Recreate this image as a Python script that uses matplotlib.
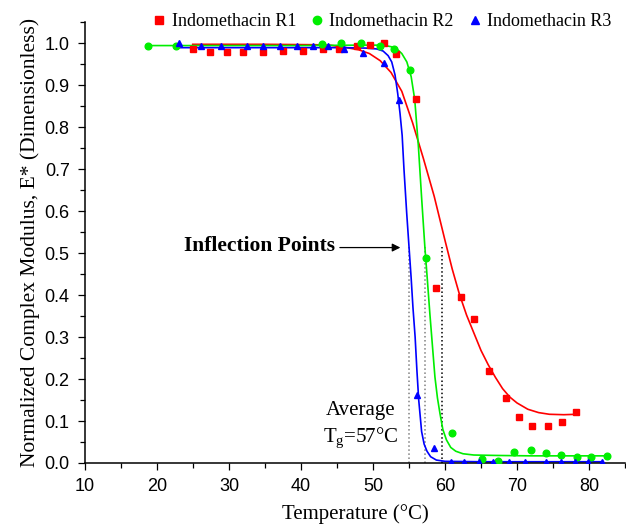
import matplotlib
matplotlib.use("Agg")
import matplotlib.pyplot as plt
from matplotlib.ticker import MultipleLocator

plt.rcParams['mathtext.fontset'] = 'custom'
plt.rcParams['mathtext.rm'] = 'Liberation Serif'

SERIF = 'Liberation Serif'
SANS = 'Liberation Sans'

# measured points (temperature in C, normalized E*)
r1_t = [24.96, 27.36, 29.68, 31.99, 34.76, 37.54, 40.24, 43.01, 45.32, 47.82, 49.58, 51.57,
        53.19, 55.93, 58.7, 62.18, 64.07, 66.07, 68.47, 70.32, 72.13, 74.26, 76.29, 78.19]
r1_e = [0.986, 0.979, 0.979, 0.979, 0.979, 0.981, 0.982, 0.985, 0.987, 0.993, 0.995, 0.999,
        0.974, 0.866, 0.417, 0.395, 0.343, 0.219, 0.154, 0.110, 0.089, 0.088, 0.098, 0.122]

r2_t = [18.8, 22.7, 42.87, 45.5, 48.4, 50.97, 52.92, 55.1, 57.36, 61.01, 65.18, 67.32,
        69.63, 71.94, 74.03, 76.11, 78.29, 80.24, 82.46]
r2_e = [0.993, 0.994, 0.998, 0.999, 0.999, 0.994, 0.987, 0.936, 0.489, 0.072, 0.0095, 0.004,
        0.0255, 0.030, 0.023, 0.018, 0.014, 0.014, 0.016]

r3_t = [23.06, 26.1, 28.9, 32.46, 34.76, 37.08, 39.4, 41.7, 43.8, 46.0, 48.65, 51.53, 53.65,
        56.15, 58.52, 60.83, 62.68, 64.76, 66.71, 68.93, 71.11, 74.03, 76.07, 78.06, 79.9, 81.76]
r3_e = [0.999, 0.994, 0.994, 0.994, 0.994, 0.994, 0.994, 0.994, 0.994, 0.985, 0.976, 0.952, 0.864,
        0.162, 0.035, 0.003, 0.003, 0.003, 0.003, 0.003, 0.003, 0.003, 0.003, 0.003, 0.003, 0.003]

# fitted curves
r1_fit_t = [24.96, 35.0, 42.0, 44.0, 46.0, 48.0, 49.5, 51.0, 52.5, 54.0, 55.5, 57.0, 58.5,
            60.0, 61.0, 62.0, 63.0, 64.0, 65.0, 66.0, 67.0, 68.0, 69.0, 70.0, 71.5, 73.0,
            74.5, 76.5, 78.3]
r1_fit_e = [0.997, 0.997, 0.996, 0.995, 0.990, 0.984, 0.975, 0.958, 0.930, 0.885, 0.810, 0.725,
            0.635, 0.530, 0.462, 0.402, 0.352, 0.310, 0.268, 0.234, 0.204, 0.177, 0.157, 0.143,
            0.128, 0.120, 0.116, 0.115, 0.116]

r2_fit_t = [18.8, 30.0, 40.0, 48.0, 50.5, 52.0, 52.9, 53.5, 54.0, 54.7, 55.3, 55.8, 56.3, 56.75,
            57.2, 57.55, 57.9, 58.25, 58.6, 58.95, 59.3, 59.7, 60.2, 60.8, 61.5, 62.5, 64.0, 67.0,
            72.0, 77.0, 82.5]
r2_fit_e = [0.994, 0.994, 0.994, 0.995, 0.995, 0.993, 0.990, 0.983, 0.975, 0.955, 0.92, 0.865,
            0.755, 0.632, 0.515, 0.436, 0.355, 0.28, 0.205, 0.155, 0.118, 0.08, 0.055, 0.037,
            0.028, 0.022, 0.019, 0.018, 0.017, 0.017, 0.017]

r3_fit_t = [23.06, 30.0, 40.0, 46.0, 49.0, 50.5, 51.4, 52.1, 52.6, 53.06, 53.43, 53.75, 54.05,
            54.3, 54.68, 55.0, 55.3, 55.55, 55.85, 56.1, 56.35, 56.75, 57.1, 57.5, 58.0, 58.8,
            60.0, 65.0, 70.0, 75.0, 81.8]
r3_fit_e = [0.989, 0.989, 0.989, 0.989, 0.988, 0.986, 0.981, 0.970, 0.955, 0.924, 0.880, 0.833,
            0.78, 0.70, 0.595, 0.515, 0.44, 0.37, 0.30, 0.22, 0.15, 0.075, 0.045, 0.028, 0.015,
            0.007, 0.004, 0.003, 0.003, 0.003, 0.003]

# inflection temperatures
tg_points = [54.95, 57.17, 59.63]
tg_colors = ['#808080', '#808080', 'black']

RED = '#ff0000'
GREEN = '#00ee00'
BLUE = '#0000ff'

fig = plt.figure(figsize=(6.26, 5.25), dpi=100)
ax = fig.add_axes([0.1358, 0.1181, 0.8626, 0.8399])

ax.plot(r1_fit_t, r1_fit_e, color=RED, linewidth=1.2, zorder=2)
ax.plot(r2_fit_t, r2_fit_e, color=GREEN, linewidth=1.2, zorder=2)
ax.plot(r3_fit_t, r3_fit_e, color=BLUE, linewidth=1.2, zorder=2)

ax.plot(r1_t, r1_e, linestyle='none', marker='s', markersize=4.6, color=RED,
        label='Indomethacin R1', zorder=3)
ax.plot(r2_t, r2_e, linestyle='none', marker='o', markersize=4.8, color=GREEN,
        label='Indomethacin R2', zorder=3)
ax.plot(r3_t, r3_e, linestyle='none', marker='^', markersize=5, color=BLUE,
        label='Indomethacin R3', zorder=4)

# dotted lines at the inflection points
for tg, c in zip(tg_points, tg_colors):
    ax.vlines(tg, 0, 0.515, colors=c, linestyles=':', linewidth=1.1, zorder=1)

ax.annotate('', xy=(53.8, 0.513), xytext=(45.4, 0.513),
            arrowprops=dict(arrowstyle='-|>', color='black', lw=0.9,
                            mutation_scale=12, shrinkA=0, shrinkB=0))
ax.text(44.7, 0.517, 'Inflection Points', fontsize=15.5, fontweight='bold',
        family=SERIF, ha='right', va='center')
ax.text(48.25, 0.126, 'Average', fontsize=15, family=SERIF, ha='center', va='center')
ax.text(48.25, 0.059, r'T$_\mathrm{g}$=57°C', fontsize=15, family=SERIF,
        ha='center', va='center')

ax.set_xlim(10, 85)
ax.set_ylim(0, 1.05)
ax.xaxis.set_major_locator(MultipleLocator(10))
ax.xaxis.set_minor_locator(MultipleLocator(5))
ax.yaxis.set_minor_locator(MultipleLocator(0.05))
ax.set_yticks([0.0, 0.1, 0.2, 0.3, 0.4, 0.5, 0.6, 0.7, 0.8, 0.9, 1.0])
ax.set_yticklabels(['0.0', '0.1', '0.2', '0.3', '0.4', '0.5', '0.6', '0.7', '0.8', '0.9', '1.0'])
ax.tick_params(which='major', direction='out', length=5, width=0.9, pad=6, labelsize=13)
ax.tick_params(which='minor', direction='out', length=3.5, width=0.9)
for lab in ax.get_xticklabels() + ax.get_yticklabels():
    lab.set_family(SANS)

ax.spines['top'].set_visible(False)
ax.spines['right'].set_visible(False)
for s in ['left', 'bottom']:
    ax.spines[s].set_linewidth(1.1)

ax.set_xlabel('Temperature (°C)', fontsize=15, family=SERIF, labelpad=6)
ax.set_ylabel('Normalized Complex Modulus, E* (Dimensionless)', fontsize=15.5,
              family=SERIF, labelpad=3)

fig.legend(loc='center right', bbox_to_anchor=(0.977, 0.959), ncol=3, frameon=False,
           prop={'family': SERIF, 'size': 13}, handlelength=0.8, handletextpad=0.3,
           columnspacing=0.75, borderpad=0, borderaxespad=0, markerscale=1.25)

fig.savefig('out.png', dpi=100)
